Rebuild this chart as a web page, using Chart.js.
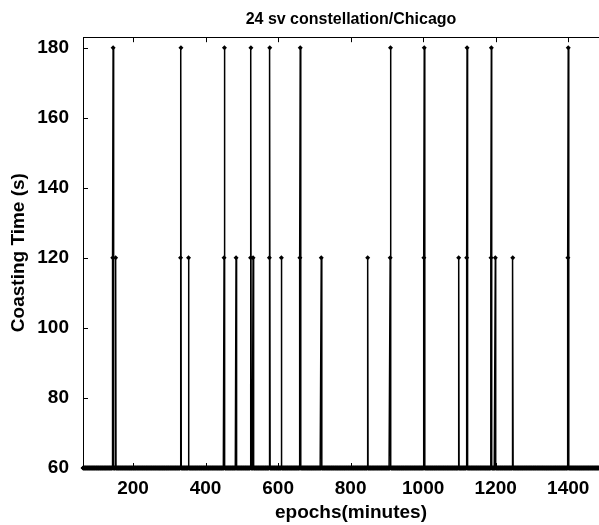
<!DOCTYPE html>
<html>
<head>
<meta charset="utf-8">
<script src="https://cdn.jsdelivr.net/npm/chart.js@4"></script>
<style>
  html, body { margin: 0; padding: 0; background: #fff; overflow: hidden; }
  #wrap { width: 625px; height: 525px; position: relative; }
</style>
</head>
<body>
<div id="wrap"><canvas id="coast-chart"></canvas></div>
<script>
// epochs are one minute apart; coasting time sits at 60 s except at these epochs
const firstEpoch = 62;
const lastEpoch = 1540;
const baseCoast = 60;
const spikeEpochs = [144, 145, 152, 331, 332, 353, 451, 452, 484, 524, 525, 531, 576, 577, 609,
    660, 661, 719, 847, 909, 910, 1002, 1003, 1098, 1120, 1121, 1187, 1188, 1199, 1247, 1399, 1400];
const spikeValues = [120, 180, 120, 120, 180, 120, 120, 180, 120, 120, 180, 120, 120, 180, 120,
    120, 180, 120, 120, 120, 180, 120, 180, 120, 120, 180, 120, 180, 120, 120, 120, 180];
const xTicks = [200, 400, 600, 800, 1000, 1200, 1400];
const yTicks = [60, 80, 100, 120, 140, 160, 180];
const yMax = 183;

const points = [];
for (let t = firstEpoch; t <= lastEpoch; t++) {
    const k = spikeEpochs.indexOf(t);
    points.push({ x: t, y: k >= 0 ? spikeValues[k] : baseCoast });
}

const font = 'Liberation Sans, Arial, Helvetica, sans-serif';

// matlab style inward tick marks
const innerTicks = {
    id: 'innerTicks',
    afterDraw(chart) {
        const ctx = chart.ctx;
        const area = chart.chartArea;
        const x = chart.scales.x;
        const y = chart.scales.y;
        ctx.save();
        ctx.strokeStyle = '#000';
        ctx.lineWidth = 1;
        ctx.beginPath();
        xTicks.forEach(v => {
            const px = Math.round(x.getPixelForValue(v)) + 0.5;
            ctx.moveTo(px, area.bottom);
            ctx.lineTo(px, area.bottom - 5);
            ctx.moveTo(px, area.top);
            ctx.lineTo(px, area.top + 5);
        });
        yTicks.forEach(v => {
            const py = Math.round(y.getPixelForValue(v)) + 0.5;
            ctx.moveTo(area.left, py);
            ctx.lineTo(area.left + 5, py);
            ctx.moveTo(area.right, py);
            ctx.lineTo(area.right - 5, py);
        });
        ctx.stroke();
        ctx.restore();
    }
};

new Chart(document.getElementById('coast-chart'), {
    type: 'line',
    data: {
        datasets: [{
            data: points,
            borderColor: '#000',
            backgroundColor: '#000',
            borderWidth: 1.5,
            pointStyle: 'rectRot',
            pointRadius: 2.5,
            pointBorderWidth: 0,
            pointBackgroundColor: '#000',
            tension: 0,
            clip: false
        }]
    },
    options: {
        responsive: true,
        maintainAspectRatio: false,
        animation: false,
        events: [],
        layout: { padding: { left: 0, right: 6, top: 0, bottom: 0 } },
        plugins: {
            legend: { display: false },
            tooltip: { enabled: false },
            title: {
                display: true,
                text: '24 sv constellation/Chicago',
                fullSize: false,
                color: '#000',
                font: { family: font, size: 16, weight: 'bold' },
                padding: { top: 10, bottom: 8 }
            }
        },
        scales: {
            x: {
                type: 'linear',
                position: 'bottom',
                min: firstEpoch,
                max: lastEpoch,
                afterBuildTicks: s => { s.ticks = xTicks.map(v => ({ value: v })); },
                afterFit: s => { s.height = 57; },
                grid: { display: false },
                border: { display: true, color: '#000', width: 1 },
                ticks: {
                    color: '#000',
                    padding: 1,
                    maxRotation: 0,
                    callback: v => String(v),
                    font: { family: font, size: 19, weight: 'bold' }
                },
                title: {
                    display: true,
                    text: 'epochs(minutes)',
                    color: '#000',
                    padding: { top: 0, bottom: 1 },
                    font: { family: font, size: 19, weight: 'bold' }
                }
            },
            xTop: {
                type: 'linear',
                position: 'top',
                min: firstEpoch,
                max: lastEpoch,
                afterFit: s => { s.height = 0; },
                grid: { display: false },
                border: { display: true, color: '#000', width: 1 },
                ticks: { display: false }
            },
            y: {
                type: 'linear',
                min: baseCoast,
                max: yMax,
                afterBuildTicks: s => { s.ticks = yTicks.map(v => ({ value: v })); },
                afterFit: s => { s.width = 83; },
                grid: { display: false },
                border: { display: true, color: '#000', width: 1 },
                ticks: {
                    color: '#000',
                    padding: 6,
                    callback: v => String(v),
                    font: { family: font, size: 19, weight: 'bold' }
                },
                title: {
                    display: true,
                    text: 'Coasting Time (s)',
                    color: '#000',
                    padding: { top: 7, bottom: 4 },
                    font: { family: font, size: 19, weight: 'bold' }
                }
            }
        }
    },
    plugins: [innerTicks]
});
</script>
</body>
</html>
